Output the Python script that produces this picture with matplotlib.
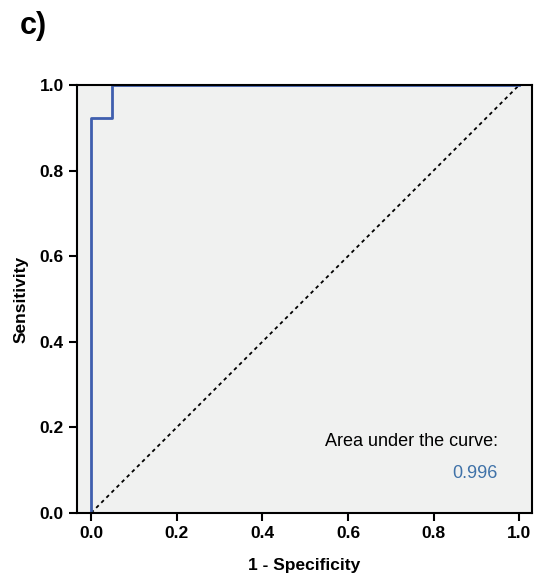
import matplotlib.pyplot as plt

plt.rcParams['font.family'] = ['Liberation Sans', 'DejaVu Sans']

# ROC curve points
fpr = [0.0, 0.0, 0.05, 0.05, 1.0]
tpr = [0.0, 0.923, 0.923, 1.0, 1.0]
ref_line = [0.0, 1.0]
auc_value = 0.996
ticks = [0.0, 0.2, 0.4, 0.6, 0.8, 1.0]

fig = plt.figure(figsize=(5.38, 5.78), dpi=100)
ax = fig.add_axes([0.143, 0.1125, 0.846, 0.7405])
ax.set_facecolor('#f0f1f0')

ax.plot(ref_line, ref_line, color='black', linestyle=(0, (2, 2)), linewidth=1.3)
ax.plot(fpr, tpr, color='#3f5fae', linewidth=2)

ax.set_xlim(-0.033, 1.03)
ax.set_ylim(0, 1)
ax.set_xticks(ticks)
ax.set_yticks(ticks)
ax.set_xticklabels(['%.1f' % t for t in ticks], fontsize=12.5, fontweight='bold')
ax.set_yticklabels(['%.1f' % t for t in ticks], fontsize=12.5, fontweight='bold')
ax.tick_params(direction='out', length=6, width=1.5)
for s in ax.spines.values():
    s.set_linewidth(1.5)

ax.set_xlabel('1 - Specificity', fontsize=12.5, fontweight='bold', labelpad=12)
ax.set_ylabel('Sensitivity', fontsize=12.5, fontweight='bold', labelpad=8)

ax.text(0.95, 0.168, 'Area under the curve:', ha='right', va='center', fontsize=13)
ax.text(0.95, 0.093, '%.3f' % auc_value, ha='right', va='center', fontsize=13, color='#3f72a8')

fig.text(0.037, 0.955, 'c)', fontsize=22, fontweight='bold', va='center')

plt.savefig('out.png', dpi=100)
